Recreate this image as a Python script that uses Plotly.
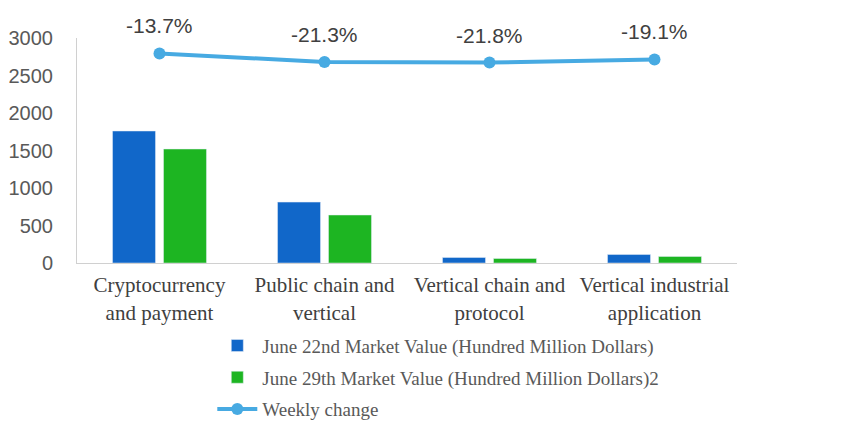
import plotly.graph_objects as go

categories = ["Cryptocurrency<br>and payment", "Public chain and<br>vertical",
              "Vertical chain and<br>protocol", "Vertical industrial<br>application"]
june22 = [1760, 812, 73, 113]
june29 = [1520, 640, 60, 87]
weekly_change = [-13.7, -21.3, -21.8, -19.1]
series_names = ["June 22nd Market Value (Hundred Million Dollars)",
                "June 29th Market Value (Hundred Million Dollars)2",
                "Weekly change"]
y_ticks = [0, 500, 1000, 1500, 2000, 2500, 3000]

BLUE = "#1167C9"
GREEN = "#1DB522"
LINE = "#47AAE2"
SERIF = "Liberation Serif, Times New Roman, serif"
SANS = "Liberation Sans, Arial, sans-serif"

fig = go.Figure()
fig.add_trace(go.Bar(x=categories, y=june22, name=series_names[0], marker_color=BLUE,
                     legendgroup="a"))
fig.add_trace(go.Bar(x=categories, y=june29, name=series_names[1], marker_color=GREEN,
                     legendgroup="b"))
fig.add_trace(go.Scatter(x=categories, y=weekly_change, name=series_names[2], yaxis="y2",
                         mode="lines+markers", line=dict(color=LINE, width=4),
                         marker=dict(color=LINE, size=12), legendgroup="c"))

for c, v in zip(categories, weekly_change):
    fig.add_annotation(x=c, y=v, yref="y2", text=f"{v:.1f}%", showarrow=False,
                       yanchor="bottom", yshift=14,
                       font=dict(family=SANS, size=21, color="#404040"))

fig.update_layout(
    width=865, height=434,
    margin=dict(l=77, r=128, t=38, b=171, autoexpand=False),
    plot_bgcolor="white", paper_bgcolor="white",
    barmode="group", bargap=0.382, bargroupgap=0.157,
    showlegend=True,
    legend=dict(x=0.205, y=-0.283, xanchor="left", yanchor="top", orientation="v",
                font=dict(family=SERIF, size=19, color="#595959"),
                itemwidth=40, tracegroupgap=4, traceorder="grouped",
                bgcolor="rgba(0,0,0,0)"),
    xaxis=dict(showline=True, linecolor="#D0D0D0", linewidth=1, showgrid=False,
               ticks="", tickfont=dict(family=SERIF, size=21, color="#404040"),
               ticklabelstandoff=3, automargin=False),
    yaxis=dict(range=[0, 3000], tickvals=y_ticks, showline=True, linecolor="#D0D0D0",
               linewidth=1, showgrid=False, zeroline=False, ticks="",
               tickfont=dict(family=SANS, size=20, color="#595959"),
               ticklabelstandoff=19, automargin=False),
    yaxis2=dict(range=[-200, 0], overlaying="y", side="right", visible=False),
)

fig.write_html("out.html")
